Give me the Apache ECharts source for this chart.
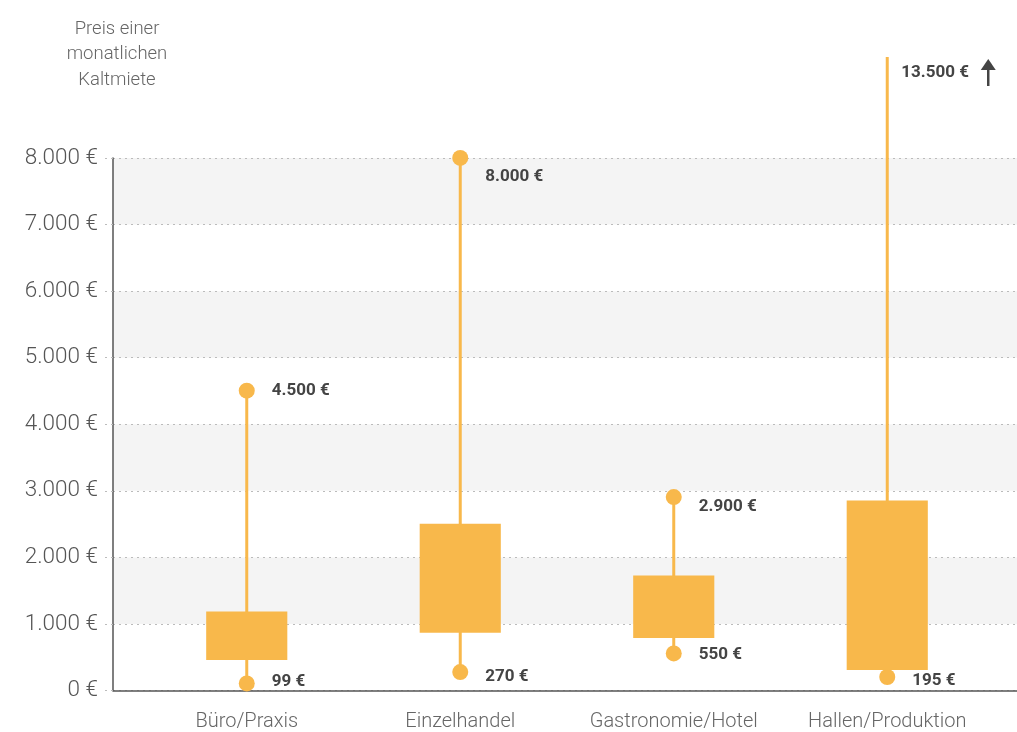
<!DOCTYPE html>
<html>
<head>
<meta charset="utf-8">
<script src="https://cdn.jsdelivr.net/npm/echarts@6/dist/echarts.min.js"></script>
<style>
html,body{margin:0;padding:0;background:#fff;}
#chart{width:1017px;height:732px;}
</style>
</head>
<body>
<div id="chart"></div>
<script>
// ---- data ----
const categories = ['Büro/Praxis', 'Einzelhandel', 'Gastronomie/Hotel', 'Hallen/Produktion'];
const minValues = [99, 270, 550, 195];
const q1Values  = [450, 860, 780, 300];
const q3Values  = [1180, 2500, 1720, 2850];
const maxValues = [4500, 8000, 2900, 13500];
const yTicks = [0, 1000, 2000, 3000, 4000, 5000, 6000, 7000, 8000];
const axisTitle = 'Preis einer\nmonatlichen\nKaltmiete';

// ---- styling ----
const ORANGE = '#F8B84B';
const FONT = 'Roboto, "Noto Sans", sans-serif';
const TOP0 = 158, TOP1 = 57, BOTTOM = 41.5, H = 732;
const yMax0 = yTicks[yTicks.length - 1];
const yMax1 = yMax0 * (H - BOTTOM - TOP1) / (H - BOTTOM - TOP0);
const labelShift = { top: [0, 19, 10, 0], bottom: [-2, 5, 1, 4] };

function fmt(v) {
  return String(v).replace(/\B(?=(\d{3})+(?!\d))/g, '.') + ' €';
}

const seriesData = categories.map((c, i) => [i, minValues[i], q1Values[i], q3Values[i], maxValues[i]]);

const chart = echarts.init(document.getElementById('chart'), null, { renderer: 'canvas' });

chart.setOption({
  animation: false,
  backgroundColor: '#fff',
  graphic: [{
    type: 'text', x: 117, y: 16.5,
    style: { text: axisTitle, fill: '#666', font: '300 18.5px ' + FONT, lineHeight: 25.5, align: 'center', textAlign: 'center' }
  }],
  grid: [
    { left: 113, right: 0, top: TOP0, bottom: BOTTOM },
    { left: 140, right: 23, top: TOP1, bottom: BOTTOM }
  ],
  xAxis: [
    { type: 'category', gridIndex: 0, data: categories,
      axisLine: { show: true, lineStyle: { color: '#555', width: 1.5 } },
      axisTick: { show: false }, axisLabel: { show: false }, splitLine: { show: false } },
    { type: 'category', gridIndex: 1, data: categories,
      axisLine: { show: false }, axisTick: { show: false },
      axisLabel: { interval: 0, color: '#666', fontSize: 20, fontFamily: FONT, fontWeight: 300, margin: 22 } }
  ],
  yAxis: [
    { type: 'value', gridIndex: 0, min: 0, max: yMax0, interval: 1000,
      axisLine: { show: true, lineStyle: { color: '#555', width: 1.5 } },
      axisTick: { show: true, length: 10, lineStyle: { color: '#bbb', type: [2, 4] } },
      axisLabel: { color: '#555', fontSize: 22.5, fontFamily: FONT, fontWeight: 300, margin: 15, formatter: v => fmt(v) },
      splitLine: { show: true, lineStyle: { color: '#bbb', type: [2, 4] } },
      splitArea: { show: true, areaStyle: { color: ['rgba(255,255,255,0)', '#f4f4f4'] } } },
    { type: 'value', gridIndex: 1, min: 0, max: yMax1, show: false, splitLine: { show: false } }
  ],
  series: [{
    type: 'custom',
    xAxisIndex: 1, yAxisIndex: 1,
    clip: false,
    data: seriesData,
    renderItem: function (params, api) {
      const i = api.value(0);
      const vMin = api.value(1), vQ1 = api.value(2), vQ3 = api.value(3), vMax = api.value(4);
      const cs = params.coordSys;
      const x = api.coord([i, 0])[0];
      const yMin = api.coord([i, vMin])[1];
      const yQ1 = api.coord([i, vQ1])[1];
      const yQ3 = api.coord([i, vQ3])[1];
      const yMaxRaw = api.coord([i, vMax])[1];
      const clipped = yMaxRaw < cs.y;
      const yMax = clipped ? cs.y : yMaxRaw;
      const bw = api.size([1, 0])[0] * 0.38;
      const children = [];
      children.push({ type: 'line', shape: { x1: x, y1: yMin, x2: x, y2: yMax }, style: { stroke: ORANGE, lineWidth: 3 } });
      children.push({ type: 'rect', shape: { x: x - bw / 2, y: yQ3, width: bw, height: yQ1 - yQ3 }, style: { fill: ORANGE } });
      children.push({ type: 'circle', shape: { cx: x, cy: yMin, r: 8 }, style: { fill: ORANGE } });
      const labStyle = { fill: '#444', font: 'bold 17px ' + FONT, verticalAlign: 'middle' };
      children.push({ type: 'text', x: x + 25, y: yMin + labelShift.bottom[i], style: Object.assign({ text: fmt(vMin) }, labStyle) });
      if (!clipped) {
        children.push({ type: 'circle', shape: { cx: x, cy: yMax, r: 8 }, style: { fill: ORANGE } });
        children.push({ type: 'text', x: x + 25, y: yMax + labelShift.top[i], style: Object.assign({ text: fmt(vMax) }, labStyle) });
      } else {
        const ty = yMax + 16;
        children.push({ type: 'text', x: x + 14, y: ty, style: Object.assign({ text: fmt(vMax) }, labStyle) });
        const ax = x + 101;
        children.push({ type: 'polygon', shape: { points: [[ax, ty - 14], [ax - 7.5, ty - 3], [ax + 7.5, ty - 3]] }, style: { fill: '#444' } });
        children.push({ type: 'line', shape: { x1: ax, y1: ty - 5, x2: ax, y2: ty + 13 }, style: { stroke: '#444', lineWidth: 2.5 } });
      }
      return { type: 'group', children: children };
    }
  }]
});
</script>
</body>
</html>
